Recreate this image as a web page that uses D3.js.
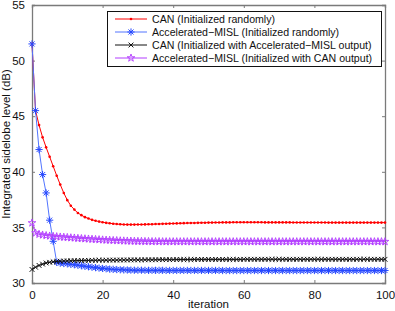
<!DOCTYPE html>
<html>
<head>
<meta charset="utf-8">
<script src="https://cdn.jsdelivr.net/npm/d3@7"></script>
<style>
  body { margin: 0; background: #fff; }
  text { font-family: "Liberation Sans", Arial, sans-serif; fill: #111; }
</style>
</head>
<body>
<script>
// values, one per iteration 0..100
const canRandom = [
    51.5, 45.5, 44.2, 43.1, 42.2, 41.35, 40.5, 39.65, 38.85, 38.1,
    37.45, 36.95, 36.6, 36.3, 36.1, 35.92, 35.8, 35.68, 35.6, 35.52,
    35.46, 35.41, 35.37, 35.33, 35.3, 35.28, 35.26, 35.25, 35.25, 35.25,
    35.26, 35.26, 35.27, 35.28, 35.29, 35.3, 35.31, 35.32, 35.33, 35.34,
    35.35, 35.36, 35.37, 35.38, 35.39, 35.4, 35.4, 35.41, 35.42, 35.42,
    35.43, 35.43, 35.44, 35.44, 35.45, 35.45, 35.45, 35.46, 35.46, 35.46,
    35.46, 35.46, 35.46, 35.46, 35.46, 35.46, 35.45, 35.45, 35.45, 35.45,
    35.45, 35.45, 35.45, 35.45, 35.44, 35.44, 35.44, 35.44, 35.44, 35.44,
    35.44, 35.44, 35.44, 35.44, 35.43, 35.43, 35.43, 35.43, 35.43, 35.43,
    35.43, 35.43, 35.43, 35.43, 35.43, 35.43, 35.43, 35.43, 35.43, 35.43,
    35.43
];
const mislRandom = [
    51.5, 45.5, 42.0, 39.75, 38.1, 35.65, 33.75, 31.85, 31.78, 31.75,
    31.72, 31.68, 31.64, 31.6, 31.55, 31.5, 31.46, 31.42, 31.38, 31.34,
    31.31, 31.28, 31.25, 31.23, 31.21, 31.19, 31.18, 31.17, 31.16, 31.15,
    31.15, 31.15, 31.14, 31.14, 31.14, 31.14, 31.14, 31.14, 31.13, 31.13,
    31.13, 31.13, 31.13, 31.13, 31.13, 31.13, 31.13, 31.13, 31.13, 31.13,
    31.13, 31.13, 31.13, 31.13, 31.12, 31.12, 31.12, 31.12, 31.12, 31.12,
    31.12, 31.12, 31.12, 31.12, 31.12, 31.12, 31.12, 31.12, 31.12, 31.12,
    31.12, 31.12, 31.12, 31.12, 31.12, 31.12, 31.12, 31.12, 31.12, 31.12,
    31.12, 31.12, 31.12, 31.12, 31.12, 31.12, 31.12, 31.12, 31.12, 31.12,
    31.12, 31.12, 31.12, 31.12, 31.12, 31.12, 31.12, 31.12, 31.12, 31.12,
    31.12
];
const canFromMisl = [
    31.22, 31.42, 31.58, 31.7, 31.8, 31.86, 31.91, 31.94, 31.96, 31.98,
    31.99, 32.0, 32.01, 32.02, 32.02, 32.03, 32.03, 32.04, 32.04, 32.05,
    32.05, 32.05, 32.06, 32.06, 32.06, 32.07, 32.07, 32.07, 32.08, 32.08,
    32.08, 32.08, 32.09, 32.09, 32.09, 32.09, 32.1, 32.1, 32.1, 32.1,
    32.1, 32.11, 32.11, 32.11, 32.11, 32.11, 32.12, 32.12, 32.12, 32.12,
    32.12, 32.12, 32.12, 32.12, 32.12, 32.12, 32.12, 32.12, 32.12, 32.12,
    32.13, 32.13, 32.13, 32.13, 32.13, 32.13, 32.13, 32.13, 32.13, 32.13,
    32.13, 32.13, 32.13, 32.13, 32.13, 32.13, 32.13, 32.13, 32.13, 32.13,
    32.13, 32.13, 32.13, 32.13, 32.13, 32.13, 32.13, 32.13, 32.13, 32.13,
    32.13, 32.13, 32.13, 32.13, 32.13, 32.13, 32.13, 32.13, 32.13, 32.13,
    32.13
];
const mislFromCan = [
    35.4, 34.5, 34.38, 34.32, 34.27, 34.23, 34.2, 34.17, 34.14, 34.12,
    34.1, 34.07, 34.05, 34.02, 34.0, 33.98, 33.96, 33.94, 33.92, 33.9,
    33.88, 33.86, 33.85, 33.83, 33.82, 33.8, 33.79, 33.78, 33.77, 33.76,
    33.75, 33.75, 33.74, 33.74, 33.73, 33.73, 33.73, 33.72, 33.72, 33.72,
    33.72, 33.72, 33.72, 33.72, 33.72, 33.72, 33.72, 33.72, 33.72, 33.72,
    33.72, 33.72, 33.72, 33.72, 33.72, 33.72, 33.72, 33.72, 33.72, 33.72,
    33.72, 33.72, 33.72, 33.72, 33.72, 33.72, 33.72, 33.72, 33.72, 33.72,
    33.72, 33.72, 33.72, 33.72, 33.72, 33.72, 33.72, 33.72, 33.72, 33.72,
    33.72, 33.72, 33.72, 33.72, 33.72, 33.72, 33.72, 33.72, 33.72, 33.72,
    33.72, 33.72, 33.72, 33.72, 33.72, 33.72, 33.72, 33.72, 33.72, 33.72,
    33.72
];
const seriesNames = [
    "CAN (Initialized randomly)",
    "Accelerated\u2212MISL (Initialized randomly)",
    "CAN (Initialized with Accelerated\u2212MISL output)",
    "Accelerated\u2212MISL (Initialized with CAN output)"
];
const xTicks = [0, 20, 40, 60, 80, 100];
const yTicks = [30, 35, 40, 45, 50, 55];

const series = [
    {name: seriesNames[0], values: canRandom, line: '#ff0000', mark: 'dot', markColor: '#ff0000'},
    {name: seriesNames[1], values: mislRandom, line: '#5275ff', mark: 'asterisk', markColor: '#2648ff'},
    {name: seriesNames[2], values: canFromMisl, line: '#111', mark: 'x', markColor: '#111'},
    {name: seriesNames[3], values: mislFromCan, line: '#b23cff', mark: 'star', markColor: '#b23cff'}
];

const margin = {top: 5, right: 10, bottom: 28, left: 32};
const W = 395, H = 311;
const width = W - margin.left - margin.right,
    height = H - margin.top - margin.bottom;

const svg = d3.select('body').append('svg')
    .attr('width', W)
    .attr('height', H);

const g = svg.append('g')
    .attr('transform', `translate(${margin.left}, ${margin.top})`);

const x = d3.scaleLinear().domain([0, 100]).range([0, width]);
const y = d3.scaleLinear().domain([30, 55]).range([height, 0]);

const axisColor = '#7a7a7a';

// axes with inward ticks, box all round
const xAxis = d3.axisBottom(x).tickValues(xTicks).tickSize(-3).tickPadding(8);
const yAxis = d3.axisLeft(y).tickValues(yTicks).tickSize(-3).tickPadding(7);

const xAxisGroup = g.append('g')
    .attr('transform', `translate(0, ${height})`)
    .call(xAxis);
const yAxisGroup = g.append('g').call(yAxis);
g.append('g').call(d3.axisTop(x).tickValues(xTicks).tickSize(-3).tickFormat(''));
g.append('g').attr('transform', `translate(${width}, 0)`)
    .call(d3.axisRight(y).tickValues(yTicks).tickSize(-3).tickFormat(''));

g.selectAll('.domain').attr('stroke', axisColor).attr('stroke-width', 1.3);
g.selectAll('.tick line').attr('stroke', axisColor);
g.selectAll('.tick text').attr('font-size', 11.5).attr('fill', '#111')
    .attr('font-family', '"Liberation Sans", Arial, sans-serif');

// axis titles
svg.append('text')
    .attr('x', margin.left + width / 2)
    .attr('y', 308)
    .attr('text-anchor', 'middle')
    .attr('font-size', 11.5)
    .text('iteration');

svg.append('text')
    .attr('transform', `translate(10, ${margin.top + height / 2}) rotate(-90)`)
    .attr('text-anchor', 'middle')
    .attr('font-size', 11.5)
    .text('Integrated sidelobe level (dB)');

function drawMarker(sel, kind, color) {
    if (kind === 'dot') {
        sel.append('circle').attr('r', 1.3).attr('fill', color);
    } else if (kind === 'asterisk') {
        const r = 3.6;
        sel.append('path')
            .attr('d', `M${-r},0L${r},0M0,${-r}L0,${r}M${-r * 0.7},${-r * 0.7}L${r * 0.7},${r * 0.7}M${-r * 0.7},${r * 0.7}L${r * 0.7},${-r * 0.7}`)
            .attr('stroke', color).attr('stroke-width', 1).attr('fill', 'none');
    } else if (kind === 'x') {
        const r = 2.4;
        sel.append('path')
            .attr('d', `M${-r},${-r}L${r},${r}M${-r},${r}L${r},${-r}`)
            .attr('stroke', color).attr('stroke-width', 1).attr('fill', 'none');
    } else if (kind === 'star') {
        sel.append('path')
            .attr('d', d3.symbol(d3.symbolStar, 18)())
            .attr('stroke', color).attr('stroke-width', 0.9).attr('fill', 'none');
    }
}

const line = d3.line()
    .x((d, i) => x(i))
    .y(d => y(d));

series.forEach(s => {
    g.append('path')
        .datum(s.values)
        .attr('fill', 'none')
        .attr('stroke', s.line)
        .attr('stroke-width', 1)
        .attr('d', line);

    g.append('g')
        .selectAll('g')
        .data(s.values)
        .enter()
        .append('g')
        .attr('transform', (d, i) => `translate(${x(i)}, ${y(d)})`)
        .each(function () { drawMarker(d3.select(this), s.mark, s.markColor); });
});

// legend
const legend = svg.append('g');
legend.append('rect')
    .attr('x', 107.5).attr('y', 11.5)
    .attr('width', 274).attr('height', 55)
    .attr('fill', '#fff').attr('stroke', '#111').attr('stroke-width', 1);

const rows = legend.selectAll('g.row')
    .data(series)
    .enter()
    .append('g')
    .attr('class', 'row')
    .attr('transform', (d, i) => `translate(0, ${19 + i * 13})`);

rows.append('line')
    .attr('x1', 115).attr('x2', 147)
    .attr('y1', 0).attr('y2', 0)
    .attr('stroke', d => d.line).attr('stroke-width', 1);

rows.append('g')
    .attr('transform', 'translate(131, 0)')
    .each(function (d) { drawMarker(d3.select(this), d.mark, d.markColor); });

rows.append('text')
    .attr('x', 152)
    .attr('y', 4)
    .attr('font-size', 10.6)
    .text(d => d.name);
</script>
</body>
</html>
